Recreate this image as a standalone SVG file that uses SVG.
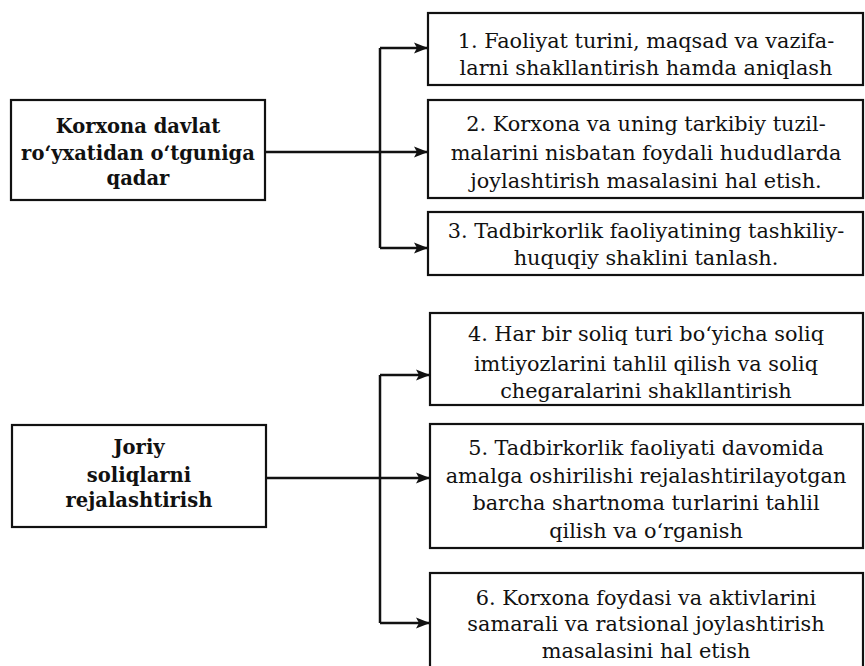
<svg xmlns="http://www.w3.org/2000/svg" width="865" height="666" viewBox="0 0 865 666">
<defs>
<style>
.box{fill:#fff;stroke:#111;stroke-width:2.2}
.t{font-family:"DejaVu Serif","Liberation Serif",serif;font-size:20.8px;fill:#111;text-anchor:middle}
.b{font-family:"DejaVu Serif","Liberation Serif",serif;font-size:19.5px;font-weight:bold;fill:#111;text-anchor:middle}
.c{fill:none;stroke:#111;stroke-width:2.5}
</style>
<marker id="ar" markerWidth="15" markerHeight="13" refX="14" refY="6.5" orient="auto" markerUnits="userSpaceOnUse">
<path d="M0,1 L14,6.5 L0,12 L3,6.5 Z" fill="#111"/>
</marker>
</defs>
<rect width="865" height="666" fill="#fff"/>
<g id="connectors">
<path class="c" d="M265,152 H428" marker-end="url(#ar)"/>
<path class="c" d="M380,48 V248"/>
<path class="c" d="M380,48 H428" marker-end="url(#ar)"/>
<path class="c" d="M380,248 H428" marker-end="url(#ar)"/>
<path class="c" d="M266,478 H430" marker-end="url(#ar)"/>
<path class="c" d="M380,375 V623"/>
<path class="c" d="M380,375 H430" marker-end="url(#ar)"/>
<path class="c" d="M380,623 H430" marker-end="url(#ar)"/>
</g>
<g id="n-korxona">
<rect class="box" x="11" y="100" width="254" height="100"/>
<text class="b" x="138" y="133">Korxona davlat</text>
<text class="b" x="138" y="160">ro‘yxatidan o‘tguniga</text>
<text class="b" x="138" y="185">qadar</text>
</g>
<g id="n-joriy">
<rect class="box" x="12" y="425" width="254" height="102"/>
<text class="b" x="139" y="454">Joriy</text>
<text class="b" x="139" y="482">soliqlarni</text>
<text class="b" x="139" y="507">rejalashtirish</text>
</g>
<g id="n1">
<rect class="box" x="428" y="13" width="435" height="72"/>
<text class="t" x="646" y="48">1. Faoliyat turini, maqsad va vazifa-</text>
<text class="t" x="646" y="75">larni shakllantirish hamda aniqlash</text>
</g>
<g id="n2">
<rect class="box" x="428" y="100" width="435" height="98"/>
<text class="t" x="646" y="131">2. Korxona va uning tarkibiy tuzil-</text>
<text class="t" x="646" y="160">malarini nisbatan foydali hududlarda</text>
<text class="t" x="646" y="188">joylashtirish masalasini hal etish.</text>
</g>
<g id="n3">
<rect class="box" x="428" y="212" width="435" height="63"/>
<text class="t" x="646" y="238">3. Tadbirkorlik faoliyatining tashkiliy-</text>
<text class="t" x="646" y="265">huquqiy shaklini tanlash.</text>
</g>
<g id="n4">
<rect class="box" x="430" y="313" width="433" height="92"/>
<text class="t" x="646" y="341">4. Har bir soliq turi bo‘yicha soliq</text>
<text class="t" x="646" y="371">imtiyozlarini tahlil qilish va soliq</text>
<text class="t" x="646" y="398">chegaralarini shakllantirish</text>
</g>
<g id="n5">
<rect class="box" x="430" y="424" width="433" height="124"/>
<text class="t" x="646" y="455">5. Tadbirkorlik faoliyati davomida</text>
<text class="t" x="646" y="483">amalga oshirilishi rejalashtirilayotgan</text>
<text class="t" x="646" y="510">barcha shartnoma turlarini tahlil</text>
<text class="t" x="646" y="538">qilish va o‘rganish</text>
</g>
<g id="n6">
<rect class="box" x="430" y="573" width="433" height="100"/>
<text class="t" x="646" y="605">6. Korxona foydasi va aktivlarini</text>
<text class="t" x="646" y="631">samarali va ratsional joylashtirish</text>
<text class="t" x="646" y="658">masalasini hal etish</text>
</g>
</svg>
